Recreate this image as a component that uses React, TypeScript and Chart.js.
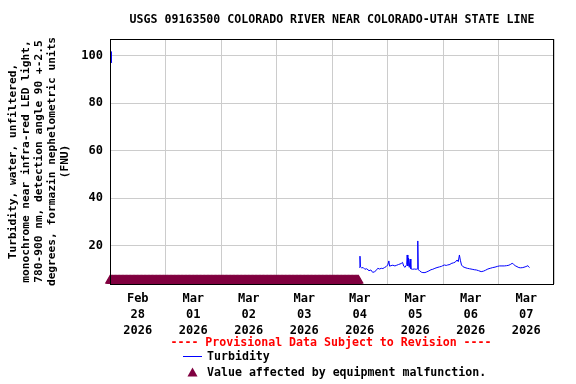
import React, { useEffect, useRef } from "react";
import { Chart, registerables } from "chart.js";

Chart.register(...registerables);

// Hours since Feb 28 2026 00:00
const dayLabels: string[][] = [
  ["Feb", "28", "2026"],
  ["Mar", "01", "2026"],
  ["Mar", "02", "2026"],
  ["Mar", "03", "2026"],
  ["Mar", "04", "2026"],
  ["Mar", "05", "2026"],
  ["Mar", "06", "2026"],
  ["Mar", "07", "2026"],
];
const yTickValues = [20, 40, 60, 80, 100];
const yMin = 4;
const yMax = 107;

const earlyHours = [0.45, 0.5, 0.9];
const earlyValues = [101.7, 97.2, 97.0];

const turbHours = [
  107.8, 108.1, 108.3, 108.8, 109.5, 110.2, 111.0, 112.0, 112.8, 113.6, 114.3, 115.0, 115.8, 116.6, 117.3,
  118.0, 118.7, 119.4, 120.1, 120.6, 120.9, 121.5, 122.3, 123.2, 124.0, 124.8, 125.9, 126.5, 127.0, 127.6,
  128.3, 128.5, 128.8, 129.1, 129.4, 129.8, 130.1, 130.8, 131.6, 132.4, 133.0, 133.1, 133.3, 133.9, 134.6,
  135.3, 136.2, 137.0, 137.9, 138.8, 139.6, 140.5, 141.4, 142.5, 143.3, 143.9, 144.6, 145.4, 146.0, 147.0,
  147.5, 148.5, 149.3, 150.1, 150.6, 151.1, 151.5, 152.0, 152.6, 153.5, 154.5, 155.5, 156.6, 157.5, 158.4,
  159.4, 160.5, 161.5, 162.4, 163.4, 164.4, 165.5, 166.5, 167.5, 168.4, 169.5, 170.5, 171.5, 172.5, 173.3,
  173.9, 174.5, 175.2, 176.0, 176.8, 177.6, 178.5, 179.5, 180.3, 180.7, 181.1, 181.4,
];
const turbValues = [
  11.0, 15.7, 11.2, 10.8, 10.9, 10.2, 10.4, 9.6, 9.9, 8.9, 9.1, 9.6, 10.6, 10.3, 10.6,
  10.5, 10.9, 11.3, 12.0, 13.7, 11.5, 11.7, 11.9, 11.6, 11.9, 12.2, 12.6, 13.1, 11.5, 11.0,
  12.2, 16.2, 11.6, 14.9, 11.0, 14.5, 10.4, 10.2, 10.3, 10.2, 10.4, 22.1, 10.0, 9.6, 9.0,
  8.8, 8.8, 9.1, 9.5, 10.0, 10.2, 10.6, 10.9, 11.2, 11.4, 11.7, 12.0, 11.8, 12.0, 12.2,
  12.6, 12.9, 13.2, 14.1, 13.4, 16.2, 14.0, 12.0, 11.3, 10.9, 10.6, 10.4, 10.2, 10.0, 9.9,
  9.6, 9.2, 9.4, 9.8, 10.3, 10.6, 10.9, 11.1, 11.4, 11.6, 11.6, 11.6, 11.7, 11.9, 12.3,
  12.7, 12.3, 11.7, 11.3, 10.9, 10.8, 10.9, 11.2, 11.5, 11.7, 11.2, 10.9,
];

// Equipment malfunction flags: 15-minute readings from start to end (hours)
const malfunctionStart = 0;
const malfunctionEnd = 107.5;
const malfunctionInterval = 0.25;
const malfunctionLevel = 5.5;

const titleText = "USGS 09163500 COLORADO RIVER NEAR COLORADO-UTAH STATE LINE";
const yTitle = [
  "Turbidity, water, unfiltered,",
  "monochrome near infra-red LED light,",
  "780-900 nm, detection angle 90 +-2.5",
  "degrees, formazin nephelometric units",
  "(FNU)",
];
const provisionalText = "---- Provisional Data Subject to Revision ----";
const seriesLabel = "Turbidity";
const malfunctionLabel = "Value affected by equipment malfunction.";

const FONT = "'DejaVu Sans Mono', monospace";
const MAROON = "rgb(128,0,64)";

export default function App() {
  const ref = useRef<HTMLCanvasElement | null>(null);

  useEffect(() => {
    if (!ref.current) return;
    const turbData: any[] = earlyHours.map((h, i) => ({ x: h, y: earlyValues[i] }));
    turbData.push({ x: (earlyHours[earlyHours.length - 1] + turbHours[0]) / 2, y: null });
    turbHours.forEach((h, i) => turbData.push({ x: h, y: turbValues[i] }));

    const malData: any[] = [];
    for (let h = malfunctionStart; h <= malfunctionEnd + 1e-9; h += malfunctionInterval) {
      malData.push({ x: h, y: malfunctionLevel });
    }

    const totalHours = dayLabels.length * 24;

    const overlay = {
      id: "overlay",
      afterDatasetsDraw(chart: any) {
        const { ctx, chartArea } = chart;
        ctx.save();
        ctx.strokeStyle = "#000";
        ctx.lineWidth = 1;
        ctx.strokeRect(
          Math.round(chartArea.left) + 0.5,
          Math.round(chartArea.top) + 0.5,
          Math.round(chartArea.right - chartArea.left) - 1,
          Math.round(chartArea.bottom - chartArea.top)
        );
        ctx.restore();
      },
      afterDraw(chart: any) {
        const { ctx, chartArea } = chart;
        const cx = (chartArea.left + chartArea.right) / 2;
        ctx.save();
        ctx.fillStyle = "#000";
        ctx.font = `bold 11.6px ${FONT}`;
        ctx.textAlign = "center";
        ctx.textBaseline = "middle";
        ctx.fillText(titleText, cx, 20);

        ctx.fillStyle = "#ff0000";
        ctx.fillText(provisionalText, cx - 1, 343);

        ctx.textAlign = "left";
        ctx.fillStyle = "#000";
        ctx.fillText(seriesLabel, 207, 357);
        ctx.fillText(malfunctionLabel, 207, 373);

        ctx.strokeStyle = "#0000ff";
        ctx.lineWidth = 1;
        ctx.beginPath();
        ctx.moveTo(183, 356.5);
        ctx.lineTo(202, 356.5);
        ctx.stroke();

        ctx.fillStyle = MAROON;
        ctx.beginPath();
        ctx.moveTo(192.5, 367.5);
        ctx.lineTo(197.5, 376.5);
        ctx.lineTo(187.5, 376.5);
        ctx.closePath();
        ctx.fill();
        ctx.restore();
      },
    };

    const chart = new Chart(ref.current, {
      type: "scatter",
      data: {
        datasets: [
          {
            label: malfunctionLabel,
            data: malData,
            showLine: false,
            pointStyle: "triangle",
            pointRadius: 6,
            pointHoverRadius: 6,
            pointBackgroundColor: MAROON,
            pointBorderWidth: 0,
            pointBorderColor: MAROON,
            clip: false as any,
          },
          {
            label: seriesLabel,
            data: turbData,
            showLine: true,
            spanGaps: false,
            borderColor: "#0000ff",
            borderWidth: 1,
            pointRadius: 0,
            tension: 0,
          },
        ],
      },
      options: {
        animation: false,
        responsive: false,
        devicePixelRatio: 1,
        events: [],
        layout: { padding: { left: 0, top: 39, right: 22, bottom: 0 } },
        plugins: {
          legend: { display: false },
          title: { display: false },
          tooltip: { enabled: false },
        },
        scales: {
          x: {
            type: "linear",
            position: "bottom",
            min: 0,
            max: totalHours,
            afterFit(scale: any) {
              scale.height = 100;
            },
            afterBuildTicks(scale: any) {
              const t: any[] = [];
              for (let i = 0; i <= dayLabels.length * 2; i++) t.push({ value: i * 12 });
              scale.ticks = t;
            },
            grid: {
              color: (c: any) => (c.tick && c.tick.value % 24 === 0 ? "#cccccc" : "rgba(0,0,0,0)"),
              lineWidth: 1,
              drawTicks: false,
            },
            border: { display: false },
            ticks: {
              autoSkip: false,
              maxRotation: 0,
              minRotation: 0,
              padding: 7,
              color: "#000",
              font: { family: FONT, size: 12, weight: "bold", lineHeight: 16 / 12 },
              callback: (value: any) => {
                const v = Number(value);
                if (v % 24 !== 12) return "";
                const idx = Math.floor(v / 24);
                return dayLabels[idx] || "";
              },
            },
          },
          y: {
            type: "linear",
            min: yMin,
            max: yMax,
            afterFit(scale: any) {
              scale.width = 110;
            },
            afterBuildTicks(scale: any) {
              scale.ticks = yTickValues.map((v) => ({ value: v }));
            },
            grid: { color: "#cccccc", lineWidth: 1, drawTicks: false },
            border: { display: false },
            ticks: {
              padding: 7,
              color: "#000",
              font: { family: FONT, size: 12, weight: "bold" },
            },
            title: {
              display: true,
              text: yTitle,
              color: "#000",
              font: { family: FONT, size: 11.2, weight: "bold", lineHeight: 13 / 11.2 },
              padding: { top: 6.5, bottom: 0 },
            },
          },
        },
      },
      plugins: [overlay],
    } as any);

    return () => chart.destroy();
  }, []);

  return (
    <div style={{ position: "fixed", left: 0, top: 0, width: 576, height: 384, background: "#fff" }}>
      <canvas ref={ref} width={576} height={384} style={{ display: "block" }} />
    </div>
  );
}
